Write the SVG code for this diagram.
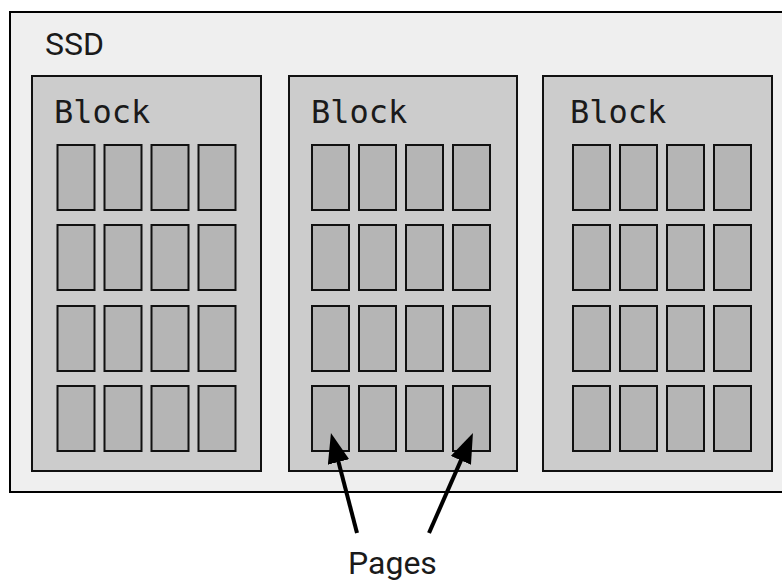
<svg xmlns="http://www.w3.org/2000/svg" width="782" height="580" viewBox="0 0 782 580">
<style>
.ssd{fill:#efefef;stroke:#000;stroke-width:2}
.blk{fill:#cccccc;stroke:#111;stroke-width:2}
.pg{fill:#b5b5b5;stroke:#111;stroke-width:2}
.mono{font-family:"DejaVu Sans Mono",monospace;font-size:32px;fill:#1a1a1a}
.sans{font-family:Roboto,"Liberation Sans",sans-serif;font-size:32px;fill:#1a1a1a}
.arr{stroke:#000;stroke-width:4;fill:none;marker-end:url(#ah)}
</style>
<defs>
<marker id="ah" markerUnits="userSpaceOnUse" markerWidth="30" markerHeight="22" viewBox="0 0 30 22" refX="2" refY="11" orient="auto">
<path d="M0,0 L30,11 L0,22 z" fill="#000"/>
</marker>
<g id="pages">
<rect class="pg" x="0" y="0" width="37" height="65"/><rect class="pg" x="47" y="0" width="37" height="65"/><rect class="pg" x="94" y="0" width="37" height="65"/><rect class="pg" x="141" y="0" width="37" height="65"/>
<rect class="pg" x="0" y="80" width="37" height="65"/><rect class="pg" x="47" y="80" width="37" height="65"/><rect class="pg" x="94" y="80" width="37" height="65"/><rect class="pg" x="141" y="80" width="37" height="65"/>
<rect class="pg" x="0" y="161" width="37" height="65"/><rect class="pg" x="47" y="161" width="37" height="65"/><rect class="pg" x="94" y="161" width="37" height="65"/><rect class="pg" x="141" y="161" width="37" height="65"/>
<rect class="pg" x="0" y="241" width="37" height="65"/><rect class="pg" x="47" y="241" width="37" height="65"/><rect class="pg" x="94" y="241" width="37" height="65"/><rect class="pg" x="141" y="241" width="37" height="65"/>
</g>
</defs>
<rect width="782" height="580" fill="#fff"/>
<g id="ssd">
<rect class="ssd" x="10" y="12" width="800" height="480"/>
<text class="sans" x="45" y="55">SSD</text>
</g>
<g id="block1">
<rect class="blk" x="32" y="76" width="229" height="395"/>
<text class="mono" x="54" y="123">Block</text>
<use href="#pages" x="57.5" y="145"/>
</g>
<g id="block2">
<rect class="blk" x="289" y="76" width="228" height="395"/>
<text class="mono" x="311" y="123">Block</text>
<use href="#pages" x="312" y="145"/>
</g>
<g id="block3">
<rect class="blk" x="543" y="76" width="229" height="395"/>
<text class="mono" x="570" y="123">Block</text>
<use href="#pages" x="573" y="145"/>
</g>
<g id="connectors">
<line class="arr" x1="357" y1="533" x2="338" y2="460"/>
<line class="arr" x1="429" y1="533" x2="461.7" y2="458.6"/>
</g>
<g id="label">
<text class="sans" x="348" y="574" font-size="33">Pages</text>
</g>
</svg>
